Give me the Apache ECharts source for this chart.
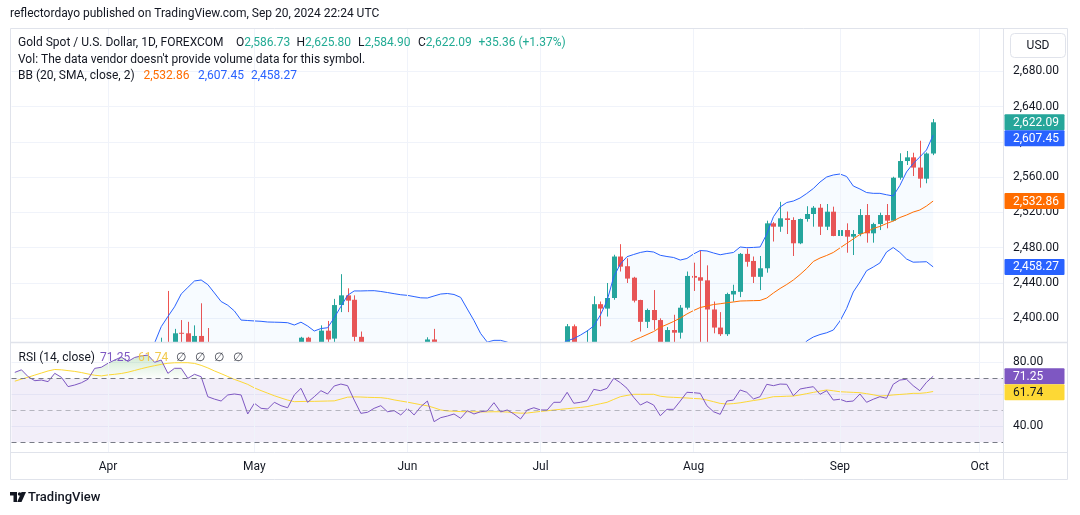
<!DOCTYPE html>
<html lang="en">
<head>
<meta charset="UTF-8">
<title>Gold Spot / U.S. Dollar, 1D, FOREXCOM</title>
<script src="https://cdn.jsdelivr.net/npm/echarts/dist/echarts.min.js"></script>
<style>
  html, body { margin: 0; padding: 0; background: #fff; }
  #main { width: 1080px; height: 515px; }
</style>
</head>
<body>
<div id="main"></div>
<script>
// ---------------- data ----------------
// trading days Mar 11 .. Sep 20 2024 (Good Friday closed) + empty days up to Oct 4
var firstDay = '2024-03-11';
var lastDay = '2024-10-04';
var closedDays = ['2024-03-29'];

var openP = [
  2179, 2182, 2158, 2174, 2162, 2155, 2160, 2157, 2186, 2181, 2165, 2172, 2179, 2194,
  2233, 2251, 2280, 2300, 2290, 2330, 2339, 2352, 2333, 2372, 2344, 2383.6, 2383, 2361, 2380,
  2371, 2327, 2322, 2316, 2332, 2337, 2335, 2286, 2320, 2303, 2301, 2323, 2314, 2309,
  2346, 2378, 2336, 2358, 2386, 2377, 2415, 2426, 2421, 2379, 2329, 2334, 2351, 2361, 2338, 2343,
  2327, 2350, 2327, 2355, 2376, 2293, 2311, 2316, 2324, 2303, 2333, 2319, 2329, 2328, 2360, 2321, 2334, 2319, 2298, 2327,
  2326, 2331, 2330, 2356, 2356, 2391, 2359, 2364, 2371, 2416, 2411, 2423, 2470, 2459, 2446, 2420.7, 2396, 2409.4, 2398, 2365,
  2386.7, 2383.7, 2412, 2448, 2446.5, 2443, 2410, 2389.5, 2382, 2427, 2430, 2473, 2465, 2447, 2456.7, 2507.6, 2503.8, 2513.3, 2511.4, 2485,
  2512.5, 2518.2, 2525.3, 2503.8, 2520.8, 2493.3, 2500, 2492.5, 2495.5, 2517, 2496.3, 2506.8, 2517, 2510.6, 2559.3, 2578.2, 2582.4, 2570.8, 2558.2, 2586.73
];
var highP = [
  2189, 2184, 2178, 2175, 2170, 2164, 2163, 2188, 2222, 2183, 2176, 2184, 2196, 2236,
  2265, 2282, 2305, 2305, 2331, 2354, 2365, 2355, 2378, 2431, 2388, 2398, 2396, 2392, 2417,
  2389, 2335, 2338, 2339, 2353, 2353, 2340, 2326, 2326, 2323, 2331, 2327, 2323, 2351,
  2379, 2379, 2362, 2392, 2397, 2422, 2450, 2434, 2426, 2385, 2340, 2356, 2364, 2363, 2351, 2361,
  2354, 2352, 2358, 2378.5, 2388, 2315, 2318, 2342, 2326, 2336, 2334, 2331, 2336, 2365, 2369, 2335, 2336, 2321, 2331, 2340,
  2340, 2336, 2365, 2363, 2393.5, 2393, 2370, 2386.7, 2425, 2419, 2440, 2472, 2484, 2468, 2447, 2421, 2411, 2432, 2400, 2390,
  2404, 2415, 2453, 2463, 2477, 2460, 2419, 2407, 2429, 2438, 2474, 2479, 2470, 2470.6, 2510.6, 2509, 2532, 2521, 2514.5, 2513,
  2527, 2527.2, 2529.5, 2529.5, 2526.5, 2507.6, 2507.6, 2500, 2523.8, 2529.5, 2508.3, 2519.7, 2529.5, 2560.4, 2587, 2589.6, 2587.6, 2601.2, 2588, 2625.80
];
var lowP = [
  2175, 2150, 2155, 2152, 2146, 2150, 2146, 2146, 2170, 2157, 2163, 2170, 2174, 2187,
  2228, 2241, 2271, 2281, 2268, 2320, 2326, 2319, 2325, 2326, 2324, 2366, 2353, 2355, 2354,
  2320, 2292, 2310, 2306, 2326, 2324, 2285, 2281, 2295, 2277, 2291, 2308, 2298, 2307,
  2345, 2333, 2332, 2354, 2372, 2372, 2407, 2407, 2374, 2326, 2325, 2333, 2340, 2335, 2326, 2322,
  2314, 2314, 2323, 2350, 2287, 2286, 2299, 2305, 2296, 2302, 2310, 2307, 2322, 2327, 2316, 2316, 2309, 2293, 2297, 2319,
  2318, 2318, 2326, 2352, 2353, 2353, 2355, 2360, 2368, 2391, 2402, 2421, 2453, 2440, 2418, 2385, 2389, 2387, 2353, 2360,
  2370, 2377, 2410, 2431, 2370, 2364, 2383, 2380, 2380, 2419, 2424, 2458.5, 2440, 2432, 2451.7, 2487, 2498, 2495.5, 2470.6, 2484,
  2509.5, 2503.8, 2494.4, 2500, 2493, 2489.9, 2474.3, 2471.7, 2493, 2485.7, 2485.7, 2500, 2502, 2510, 2557, 2573.7, 2561.2, 2548, 2553, 2584.90
];
var closeP = [
  2182, 2158, 2174, 2162, 2155, 2160, 2157, 2186, 2181, 2165, 2172, 2179, 2194, 2233,
  2251, 2280, 2300, 2290, 2330, 2339, 2352, 2333, 2372, 2344, 2383, 2383, 2361, 2380, 2371,
  2327, 2322, 2316, 2332, 2337, 2335, 2286, 2320, 2303, 2301, 2323, 2314, 2309, 2346,
  2378, 2336, 2358, 2386, 2376, 2415, 2426, 2420, 2379, 2329, 2334, 2351, 2361, 2338, 2343, 2327,
  2350, 2327, 2355, 2376, 2293, 2311, 2316, 2324, 2303, 2333, 2319, 2329, 2328, 2360, 2321, 2334, 2319, 2298, 2327, 2326,
  2331, 2330, 2356, 2356, 2391, 2359, 2364, 2371, 2416, 2411, 2423, 2470, 2458.5, 2445, 2420, 2396, 2409.4, 2398, 2364, 2386.7,
  2383.7, 2412, 2448, 2446, 2442.6, 2410, 2389.5, 2382, 2427.5, 2431, 2473, 2464, 2447, 2456.7, 2507.6, 2503.8, 2513.3, 2511.4, 2485, 2512.5,
  2518.2, 2525.3, 2503.8, 2520.8, 2493.3, 2500, 2492.5, 2495.5, 2517, 2496.3, 2506.8, 2517, 2510.6, 2559.3, 2578.2, 2582.4, 2570.8, 2558.2, 2586.73, 2622.09
];

// Bollinger bands (20, 2)
var bbUpper = [
  2195, 2200, 2203, 2205, 2206, 2205, 2203, 2202, 2208, 2210, 2212, 2214, 2216, 2232, 2250, 2272, 2295, 2312, 2335, 2352, 2365,
  2372, 2390.5, 2402, 2413, 2427.5, 2435, 2442.3, 2443.4, 2438.2, 2428.7, 2419, 2414.8, 2408.3, 2398, 2397.5, 2397, 2396.6, 2395.8, 2395.6, 2395.4,
  2395, 2392.4, 2395.6, 2391.3, 2385.6, 2388.4, 2389.3, 2400.6, 2413.4, 2426, 2431, 2431, 2431.2, 2431.3, 2430.4, 2429.2, 2427.9, 2426.7, 2426, 2424.6,
  2423.2, 2423, 2425.3, 2427.5, 2428.1, 2427, 2423.7, 2410.5, 2397.5, 2382.8, 2373, 2375, 2375, 2373, 2368, 2366, 2365, 2364, 2363, 2364, 2366, 2370,
  2374.5, 2377, 2381, 2385.6, 2391.3, 2403.7, 2420, 2447, 2461.5, 2469.8, 2472.3, 2474.6, 2476, 2475.1, 2471.4, 2470, 2468.9, 2466, 2467.8, 2472.9, 2476.8, 2476.3,
  2474, 2472, 2473.4, 2474.6, 2480.8, 2480, 2480.3, 2480.8, 2495.5, 2515.1, 2526.1, 2531.2, 2532.9, 2536.3, 2541.4, 2547.1, 2554.4, 2560.1, 2562.4, 2563.5,
  2560.7, 2549.9, 2546.5, 2542.5, 2541.6, 2541.6, 2540, 2538.6, 2550.5, 2565.8, 2575.4, 2582.8, 2590.7, 2607.45
];
var bbMid = [
  2135, 2140, 2145, 2150, 2153, 2156, 2158, 2161, 2164, 2166, 2168, 2170, 2173, 2178,
  2183, 2190, 2197, 2205, 2213, 2222, 2231, 2240, 2251, 2260, 2271, 2282, 2291, 2300, 2310, 2316, 2320, 2324, 2327, 2330, 2333, 2333,
  2334, 2334, 2333, 2333, 2332, 2331, 2330, 2331, 2330, 2331, 2333, 2334, 2337, 2341, 2344, 2345, 2345, 2346, 2347, 2349, 2350, 2351, 2352,
  2352, 2351, 2349, 2348, 2344, 2340, 2337, 2335, 2333, 2332, 2331, 2330, 2329, 2330, 2329, 2328, 2326, 2324, 2323, 2323,
  2322, 2322, 2323, 2325, 2328, 2331, 2334, 2338, 2342, 2346, 2351, 2357, 2364, 2370.5,
  2375, 2378.2, 2381.6, 2385, 2389.8, 2393, 2396.4, 2400.3, 2404.9, 2408.8, 2412.2, 2413.9, 2415.6, 2416.5, 2417.6, 2418.5, 2419.6, 2419.8, 2420, 2420.2,
  2423, 2428.7, 2433.8, 2438.3, 2443.4, 2449.6, 2456.4, 2464.4, 2468.3, 2471.2, 2474.6, 2479.7, 2484.8, 2489.9, 2495, 2497.8, 2501.8, 2504.1, 2507.4, 2510.2, 2514.2, 2517, 2520.4, 2522.7, 2527.2, 2532.86
];
var bbLower = [
  2075, 2080, 2087, 2095, 2100, 2107, 2113, 2120, 2120, 2122, 2124, 2126, 2130, 2124,
  2116, 2108, 2099, 2098, 2091, 2092, 2097, 2108, 2112, 2117, 2129, 2137, 2147, 2158, 2177, 2194, 2211, 2229, 2239, 2252, 2268, 2269,
  2271, 2271, 2270, 2270, 2269, 2267, 2268, 2266, 2269, 2276, 2278, 2279, 2273, 2269, 2262, 2259, 2259, 2261, 2263, 2268, 2271, 2274, 2277,
  2278, 2277, 2275, 2273, 2263, 2252, 2246, 2243, 2242, 2255, 2264, 2277, 2285, 2285, 2283, 2286, 2284, 2282, 2281, 2282,
  2281, 2280, 2280, 2280, 2281.5, 2285, 2287, 2290, 2293, 2288, 2282, 2267, 2266, 2271,
  2277.7, 2281.8, 2287.2, 2294.9, 2308.2, 2316, 2323.9, 2334.6, 2342, 2344.7, 2347.6, 2351.5, 2357.2, 2361, 2361.8, 2362.4, 2358.4, 2359.6, 2359.7, 2359.6, 2350.5, 2342.3, 2341.5, 2345.4, 2353.9, 2362.9,
  2374.3, 2378.8, 2381.6, 2383.6, 2386.7, 2396.9, 2411.1, 2429.8, 2441.1, 2453.9, 2458.1, 2462.7, 2475.1, 2480.2, 2474.6, 2467.2, 2463.6, 2463.8, 2464.1, 2458.27
];

// RSI (14) and its moving average
var rsiVals = [
  73.7, 75.3, 71, 68.5, 68.9, 67.9, 73.1, 70.6, 64.8, 65.8, 67.2, 69.4, 76.2, 76.9,
  79.4, 81.4, 83.3, 80.5, 83, 84, 84.5, 80, 81.4, 73.1,
  76.25, 76.25, 70, 72.5, 71, 58.5, 57, 55.8, 59.6, 60.2, 59.6, 47.7,
  54.4, 51.25, 50.8, 55, 52.9, 51.6, 59.6, 63.75, 55, 58.5, 62.25, 60.2, 65.2,
  66.4, 65.4, 56.4, 48.1, 48.75, 51.25, 52.9, 49.1, 49.75, 47.1, 51.25, 47.1, 52.25, 55.8,
  42.9, 45.4, 46.4, 47.7, 45, 49.75, 47.7, 49.1, 49.6, 54.75, 49,
  50.2, 47.7, 44.6, 50.2, 51.6, 50.2, 50.2, 55, 55, 61.25, 54.4, 55, 56, 63.1, 62.25, 63.75,
  70, 67.25, 63.75, 58.1, 53.3, 55.4, 53.3, 46.6, 50.6, 50.6, 55.8, 61.25, 61, 60.6, 52.9,
  49.1, 47.5, 55.8, 56.4, 62.7, 61.25, 57.1, 58.5, 66.25, 65.4, 66.4, 66.25, 59.1, 63.3,
  64.1, 64.75, 60, 62.25, 56.4, 56.9, 55.4, 55.8, 60.2, 55, 56.9, 58.5, 57.5, 66.25, 68.9, 69.4, 65.4, 62.25, 67.5, 71.25
];
var rsiMa = [
  68.2, 69.5, 70.7, 72, 73.3, 74.6, 75.5, 75.3, 74.8, 74.3, 73.6, 72.7, 71.9, 71.5,
  72.1, 72.5, 73, 73.8, 74.9, 76, 77, 77.9, 78.7, 79.4, 79.7, 79.75, 79.75, 79.3, 78.1, 76.5, 74.6, 72.9, 71.1, 69.3, 67.8, 66.2,
  64, 62.3, 60.7, 59.1, 57.7, 56.4, 55.4, 55.5, 55.6, 55.6, 55.7, 55.8, 55.9, 57, 58.2, 58.4, 58.3, 58.1, 58, 57.9, 57.4, 56.5, 55.8,
  55.1, 54.3, 53.5, 52.8, 51.6, 50.2, 49.6, 49.4, 49.2, 49.1, 49.1, 49, 49, 49.1, 49.1, 48.9, 48.5, 48.2, 48.3, 48.8,
  49.3, 49.7, 50.2, 50.6, 51, 51.4, 51.8, 52.3, 53.2, 54.1, 55, 56.8, 58.5, 59.3, 60, 60, 60, 60,
  58.8, 58.3, 58.1, 57.9, 57.7, 57.4, 57.2, 56.4, 55.4, 54.3, 53.9, 54.2, 54.7, 55.4, 56.1, 56.7,
  57.6, 58.5, 58.6, 58.8, 58.9, 59.6, 60.4, 61.2, 62, 62.7, 62.2, 61.6, 61.4, 61.2, 61, 60.4, 59.7, 58.9, 59.2, 59.6, 59.9, 60.2, 60.6, 60.6, 61, 61.74
];

var priceTicks = [2400, 2440, 2480, 2520, 2560, 2600, 2640, 2680];
var rsiTicks = [40, 60, 80];
var monthNames = ['Jan', 'Feb', 'Mar', 'Apr', 'May', 'Jun', 'Jul', 'Aug', 'Sep', 'Oct', 'Nov', 'Dec'];

// ---------------- helpers ----------------
function tradingDays(from, to) {
  var out = [];
  var d = new Date(from + 'T00:00:00Z');
  var end = new Date(to + 'T00:00:00Z');
  while (d <= end) {
    var s = d.toISOString().slice(0, 10);
    var wd = d.getUTCDay();
    if (wd !== 0 && wd !== 6 && closedDays.indexOf(s) < 0) out.push(s);
    d.setUTCDate(d.getUTCDate() + 1);
  }
  return out;
}
var dates = tradingDays(firstDay, lastDay);
var monthStart = dates.map(function (d, i) {
  return i > 0 && d.slice(5, 7) !== dates[i - 1].slice(5, 7);
});
var monthLines = dates.filter(function (d, i) { return monthStart[i]; })
  .map(function (d) { return { xAxis: d }; });

function fmt2(v) {
  return v.toLocaleString('en-US', { minimumFractionDigits: 2, maximumFractionDigits: 2 });
}

var n = closeP.length;
[openP, highP, lowP, bbUpper, bbMid, bbLower, rsiVals, rsiMa].forEach(function (a, k) {
  if (a.length !== n) throw new Error('array ' + k + ' has ' + a.length + ' values, expected ' + n);
});

var candles = closeP.map(function (c, i) { return [i, openP[i], c, lowP[i], highP[i]]; });
var bbBand = bbUpper.map(function (u, i) { return +(u - bbLower[i]).toFixed(2); });
var obBase = rsiVals.map(function () { return 70; });
var obFill = rsiVals.map(function (v) { return Math.max(v, 70) - 70; });

var FONT = 'Roboto, "Noto Sans", sans-serif';
var TXT = '#131722';
var GRID = '#f0f3fa';
var BORDER = '#e0e3eb';
var UP = '#26a69a';
var DOWN = '#ef5350';

// candle drawn by hand so it is cut at the pane edge like TradingView does
function renderCandle(params, api) {
  var i = api.value(0), o = api.value(1), c = api.value(2), l = api.value(3), h = api.value(4);
  var cs = params.coordSys;
  var top = cs.y, bot = cs.y + cs.height;
  var px = Math.round(api.coord([i, o])[0]);
  var yo = api.coord([i, o])[1], yc = api.coord([i, c])[1];
  var yl = api.coord([i, l])[1], yh = api.coord([i, h])[1];
  var col = c >= o ? UP : DOWN;
  var kids = [];
  var w1 = Math.max(yh, top), w2 = Math.min(yl, bot);
  if (w2 > w1) {
    kids.push({ type: 'line', shape: { x1: px + 0.5, y1: w1, x2: px + 0.5, y2: w2 }, style: { stroke: col, lineWidth: 1 } });
  }
  var body = echarts.graphic.clipRectByRect(
    { x: px - 2, y: Math.min(yo, yc), width: 5, height: Math.max(Math.abs(yo - yc), 1) },
    { x: cs.x, y: cs.y, width: cs.width, height: cs.height }
  );
  if (body) kids.push({ type: 'rect', shape: body, style: { fill: col } });
  return { type: 'group', children: kids };
}

var chart = echarts.init(document.getElementById('main'));

var option = {
  animation: false,
  backgroundColor: '#ffffff',
  textStyle: { fontFamily: FONT },
  grid: [
    { left: 11.5, right: 77, top: 28, height: 314 },
    { left: 11.5, right: 77, top: 343, height: 109 }
  ],
  xAxis: [
    {
      type: 'category', gridIndex: 0, data: dates, boundaryGap: true,
      axisLine: { show: false }, axisTick: { show: false }, axisLabel: { show: false }, splitLine: { show: false }
    },
    {
      type: 'category', gridIndex: 1, data: dates, boundaryGap: true,
      axisLine: { show: false }, axisTick: { show: false },
      axisLabel: {
        interval: function (i) { return monthStart[i]; },
        formatter: function (v) { return monthNames[parseInt(v.slice(5, 7), 10) - 1]; },
        color: TXT, fontSize: 12, margin: 9
      },
      splitLine: { show: false }
    }
  ],
  yAxis: [
    {
      type: 'value', gridIndex: 0, position: 'right', min: 2373.14, max: 2728.96,
      axisLine: { show: false },
      axisTick: { show: false, customValues: priceTicks },
      axisLabel: { customValues: priceTicks, formatter: fmt2, color: TXT, fontSize: 12, margin: 10 },
      splitLine: { show: true, lineStyle: { color: GRID, width: 1 } }
    },
    {
      type: 'value', gridIndex: 1, position: 'right', min: 23.94, max: 92.06,
      axisLine: { show: false },
      axisTick: { show: false, customValues: rsiTicks },
      axisLabel: { customValues: rsiTicks, formatter: fmt2, color: TXT, fontSize: 12, margin: 10 },
      splitLine: { show: true, lineStyle: { color: GRID, width: 1 } }
    }
  ],
  series: [
    // BB lower, also carries the month grid lines of the price pane
    {
      name: 'BB lower', type: 'line', xAxisIndex: 0, yAxisIndex: 0, stack: 'bb',
      data: bbLower, symbol: 'none', lineStyle: { color: '#2962ff', width: 1 },
      markLine: {
        silent: true, symbol: ['none', 'none'], label: { show: false },
        lineStyle: { color: GRID, width: 1, type: 'solid' }, data: monthLines
      }
    },
    {
      name: 'BB fill', type: 'line', xAxisIndex: 0, yAxisIndex: 0, stack: 'bb',
      data: bbBand, symbol: 'none', lineStyle: { width: 0, opacity: 0 },
      areaStyle: { color: 'rgba(33,150,243,0.05)' }
    },
    {
      name: 'XAUUSD', type: 'custom', xAxisIndex: 0, yAxisIndex: 0,
      data: candles, renderItem: renderCandle, clip: true,
      encode: { x: 0, y: [1, 2, 3, 4] }
    },
    {
      name: 'BB basis', type: 'line', xAxisIndex: 0, yAxisIndex: 0,
      data: bbMid, symbol: 'none', lineStyle: { color: '#ff6d00', width: 1 }
    },
    {
      name: 'BB upper', type: 'line', xAxisIndex: 0, yAxisIndex: 0,
      data: bbUpper, symbol: 'none', lineStyle: { color: '#2962ff', width: 1 }
    },
    // RSI pane: band, levels and month grid lines
    {
      name: 'RSI band', type: 'line', xAxisIndex: 1, yAxisIndex: 1,
      data: rsiVals, symbol: 'none', lineStyle: { opacity: 0, width: 0 },
      markArea: {
        silent: true, itemStyle: { color: 'rgba(126,87,194,0.1)' },
        data: [[{ yAxis: 30 }, { yAxis: 70 }]]
      },
      markLine: {
        silent: true, symbol: ['none', 'none'], label: { show: false },
        data: monthLines.map(function (m) {
          return { xAxis: m.xAxis, lineStyle: { color: GRID, width: 1, type: 'solid' } };
        }).concat([
          { yAxis: 70, lineStyle: { color: '#787b86', width: 1, type: [5, 4] } },
          { yAxis: 50, lineStyle: { color: 'rgba(120,123,134,0.5)', width: 1, type: [5, 4] } },
          { yAxis: 30, lineStyle: { color: '#787b86', width: 1, type: [5, 4] } }
        ])
      }
    },
    {
      name: 'OB base', type: 'line', xAxisIndex: 1, yAxisIndex: 1, stack: 'ob',
      data: obBase, symbol: 'none', lineStyle: { opacity: 0, width: 0 }
    },
    {
      name: 'OB fill', type: 'line', xAxisIndex: 1, yAxisIndex: 1, stack: 'ob',
      data: obFill, symbol: 'none', lineStyle: { opacity: 0, width: 0 },
      areaStyle: {
        color: {
          type: 'linear', x: 0, y: 350, x2: 0, y2: 378, global: true,
          colorStops: [
            { offset: 0, color: 'rgba(76,175,80,0.45)' },
            { offset: 1, color: 'rgba(76,175,80,0.03)' }
          ]
        }
      }
    },
    {
      name: 'RSI MA', type: 'line', xAxisIndex: 1, yAxisIndex: 1,
      data: rsiMa, symbol: 'none', lineStyle: { color: '#fdd835', width: 1 }
    },
    {
      name: 'RSI', type: 'line', xAxisIndex: 1, yAxisIndex: 1,
      data: rsiVals, symbol: 'none', lineStyle: { color: '#7e57c2', width: 1 }
    }
  ]
};

// ---------------- texts and frame ----------------
var last = n - 1;
var chg = closeP[last] - closeP[last - 1];
var chgPct = chg / closeP[last - 1] * 100;
var VAL = '#22ab94';
function txt(id, x, y, text, extra) {
  var st = { x: x, y: y, text: text, fill: TXT, font: '12px ' + FONT, verticalAlign: 'middle' };
  for (var k in extra) st[k] = extra[k];
  return { type: 'text', id: id, z: 100, silent: true, style: st };
}
function hline(id, x1, x2, y, w) {
  return { type: 'line', id: id, z: 90, silent: true, shape: { x1: x1, y1: y, x2: x2, y2: y }, style: { stroke: BORDER, lineWidth: w || 1 } };
}
function vline(id, x, y1, y2) {
  return { type: 'line', id: id, z: 90, silent: true, shape: { x1: x, y1: y1, x2: x, y2: y2 }, style: { stroke: BORDER, lineWidth: 1 } };
}

option.graphic = [
  txt('pub', 10, 14, 'reflectordayo published on TradingView.com, Sep 20, 2024 22:24 UTC'),
  { type: 'rect', id: 'frame', z: 90, silent: true, shape: { x: 10.5, y: 28.5, width: 1057, height: 451 }, style: { fill: 'none', stroke: BORDER, lineWidth: 1 } },
  vline('sepX', 1003.5, 28.5, 479.5),
  hline('sepP', 10.5, 1067.5, 342.5, 1.5),
  hline('sepT', 10.5, 1067.5, 452.5, 1),
  { type: 'rect', id: 'usdBox', z: 95, silent: true, shape: { x: 1010.5, y: 33.5, width: 55, height: 24, r: 4 }, style: { fill: '#fff', stroke: BORDER, lineWidth: 1 } },
  txt('usd', 1038, 45.5, 'USD', { align: 'center' }),
  txt('l1', 18, 42.5, 'Gold Spot / U.S. Dollar, 1D, FOREXCOM'),
  txt('l1o', 236, 42.5, 'O{v|' + fmt2(openP[last]) + '}', { rich: { v: { fill: VAL, font: '12px ' + FONT } } }),
  txt('l1h', 296.5, 42.5, 'H{v|' + fmt2(highP[last]) + '}', { rich: { v: { fill: VAL, font: '12px ' + FONT } } }),
  txt('l1l', 358, 42.5, 'L{v|' + fmt2(lowP[last]) + '}', { rich: { v: { fill: VAL, font: '12px ' + FONT } } }),
  txt('l1c', 418, 42.5, 'C{v|' + fmt2(closeP[last]) + '}', { rich: { v: { fill: VAL, font: '12px ' + FONT } } }),
  txt('l1d', 478.5, 42.5, (chg >= 0 ? '+' : '') + fmt2(chg) + ' (' + (chg >= 0 ? '+' : '') + chgPct.toFixed(2) + '%)', { fill: VAL }),
  txt('l2', 18, 59.5, "Vol: The data vendor doesn't provide volume data for this symbol."),
  txt('l3', 18, 76, 'BB (20, SMA, close, 2)'),
  txt('l3m', 143.5, 76, fmt2(bbMid[last]), { fill: '#ff6d00' }),
  txt('l3u', 198, 76, fmt2(bbUpper[last]), { fill: '#2962ff' }),
  txt('l3l', 251, 76, fmt2(bbLower[last]), { fill: '#2962ff' }),
  txt('r1', 18.5, 357.5, 'RSI (14, close)'),
  txt('r1v', 100, 357.5, fmt2(rsiVals[last]), { fill: '#7e57c2' }),
  txt('r1m', 138, 357.5, fmt2(rsiMa[last]), { fill: '#f2c94c' }),
  txt('r1e', 176, 357.5, '\u2205   \u2205   \u2205   \u2205', { fill: '#434651' }),
  // TradingView logo
  { type: 'rect', id: 'lg1', z: 100, silent: true, shape: { x: 10, y: 492, width: 7, height: 3.5 }, style: { fill: TXT } },
  { type: 'rect', id: 'lg2', z: 100, silent: true, shape: { x: 13.5, y: 492, width: 3.5, height: 10 }, style: { fill: TXT } },
  { type: 'circle', id: 'lg3', z: 100, silent: true, shape: { cx: 19.6, cy: 494, r: 1.8 }, style: { fill: TXT } },
  { type: 'polygon', id: 'lg4', z: 100, silent: true, shape: { points: [[21.5, 492], [26, 492], [21.5, 502], [17.2, 502]] }, style: { fill: TXT } },
  txt('tv', 28, 497.5, 'TradingView', { font: '500 13px ' + FONT })
];

chart.setOption(option);

// ---------------- last-value tags on the price scale ----------------
function tagSet(axisIdx, items) {
  items.forEach(function (t) { t.y = chart.convertToPixel({ yAxisIndex: axisIdx }, t.v); });
  items.sort(function (a, b) { return a.y - b.y; });
  for (var i = 1; i < items.length; i++) {
    if (items[i].y < items[i - 1].y + 16) items[i].y = items[i - 1].y + 16;
  }
  return items;
}
var tags = tagSet(0, [
  { v: closeP[last], bg: UP, fg: '#fff' },
  { v: bbUpper[last], bg: '#2962ff', fg: '#fff' },
  { v: bbMid[last], bg: '#ff6d00', fg: '#fff' },
  { v: bbLower[last], bg: '#2962ff', fg: '#fff' }
]).concat(tagSet(1, [
  { v: rsiVals[last], bg: '#7e57c2', fg: '#fff' },
  { v: rsiMa[last], bg: '#fdd835', fg: TXT }
]));
var tagEls = [];
tags.forEach(function (t, i) {
  tagEls.push({ type: 'rect', id: 'tagr' + i, z: 110, silent: true, shape: { x: 1004.5, y: t.y - 8, width: 60, height: 16, r: 1 }, style: { fill: t.bg } });
  tagEls.push({ type: 'text', id: 'tagt' + i, z: 111, silent: true, style: { x: 1013, y: t.y + 0.5, text: fmt2(t.v), fill: t.fg, font: '12px ' + FONT, verticalAlign: 'middle' } });
});
chart.setOption({ graphic: tagEls });

window.addEventListener('resize', function () { chart.resize(); });
</script>
</body>
</html>
